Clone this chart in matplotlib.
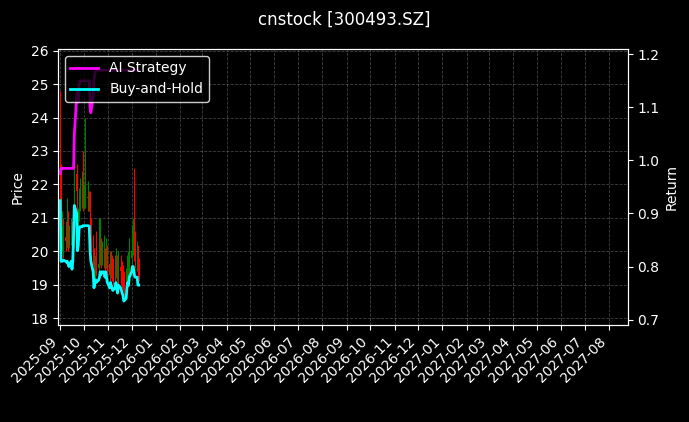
import matplotlib
matplotlib.use("Agg")
import matplotlib.pyplot as plt
import matplotlib.dates as mdates
import pandas as pd
import numpy as np

dates = pd.bdate_range("2025-09-01", "2025-12-10")
close = [21.5,20.2,20.6,20.0,20.4, 20.3,20.5,21.0,20.2,20.4, 20.6,20.2,20.4,21.2,22.3,
         21.8,20.6,21.0,21.5,21.6, 21.7,21.6,21.6,21.6,21.6, 21.6,21.6,21.5,20.8,20.2,
         19.9,19.3,19.5,19.6,19.5, 19.6,19.8,19.9,19.8,19.9, 19.9,19.7,19.9,19.7,19.6,
         19.3,19.6,19.5,19.4,19.3, 19.4,19.6,19.4,19.2,19.5, 19.4,19.3,19.2,19.1,18.9,
         19.1,19.4,19.6,19.5,19.8, 20.0,20.2,20.4,20.1,19.9, 19.9,19.5,19.4]
opn = [22.0,21.5,20.2,20.6,20.0, 20.4,20.3,20.5,21.0,20.2, 20.4,20.6,20.2,20.4,21.2,
       22.3,21.8,20.6,21.0,21.5, 21.6,21.7,21.6,21.6,21.6, 21.6,21.6,21.6,21.5,20.8,
       20.2,19.9,19.3,19.5,19.6, 19.5,19.6,19.8,19.9,19.8, 19.9,19.9,19.7,19.9,19.7,
       19.6,19.3,19.6,19.5,19.4, 19.3,19.4,19.6,19.4,19.2, 19.5,19.4,19.3,19.2,19.1,
       18.9,19.1,19.4,19.6,19.5, 19.8,20.0,20.2,20.4,20.1, 19.9,19.9,19.5]
high = [24.8,22.6,21.2,21.0,20.8, 20.9,21.0,21.6,21.2,20.8, 21.0,20.9,21.0,22.5,22.8,
        22.6,21.7,21.3,21.9,22.2, 22.4,23.0,22.0,22.0,24.0, 22.0,22.1,21.8,21.8,21.0,
        20.5,20.1,19.9,20.2,20.6, 21.0,20.6,21.0,20.4,20.3, 20.5,20.1,20.4,20.2,20.0,
        19.8,20.0,20.0,19.9,19.8, 19.9,20.1,19.9,19.7,20.0, 19.9,19.8,19.7,19.6,19.4,
        19.5,19.9,20.0,20.2,20.4, 20.6,20.8,21.0,22.5,20.6, 20.3,20.2,19.8]
low = [21.3,20.0,20.0,19.8,19.9, 20.0,20.1,20.3,20.0,20.1, 20.2,20.0,20.0,20.1,21.0,
       21.4,20.3,20.4,20.9,21.2, 21.3,21.2,21.3,21.3,21.3, 21.2,21.2,21.2,20.6,20.0,
       19.6,19.1,19.2,19.3,19.3, 19.3,19.5,19.6,19.5,19.6, 19.5,19.4,19.5,19.4,19.3,
       19.1,19.2,19.2,19.1,19.0, 19.1,19.2,19.1,18.9,19.1, 19.1,19.0,18.9,18.8,18.7,
       18.8,19.0,19.2,19.2,19.4, 19.6,19.8,19.9,19.7,19.5, 19.4,19.2,19.1]
bh = [0.924,0.81,0.81,0.81,0.812, 0.81,0.808,0.81,0.805,0.80, 0.81,0.795,0.81,0.86,0.915,
      0.90,0.83,0.84,0.87,0.875, 0.875,0.877,0.877,0.877,0.877, 0.877,0.877,0.876,0.83,0.81,
      0.79,0.76,0.77,0.775,0.77, 0.775,0.78,0.79,0.785,0.79, 0.79,0.78,0.79,0.78,0.77,
      0.76,0.77,0.765,0.76,0.755, 0.76,0.77,0.76,0.75,0.765, 0.76,0.755,0.75,0.745,0.735,
      0.74,0.76,0.77,0.765,0.78, 0.79,0.80,0.80,0.79,0.78, 0.78,0.765,0.765]
ai = [0.975,0.985,0.985,0.985,0.985, 0.985,0.985,0.985,0.985,0.985, 0.985,0.985,0.985,0.985,1.05,
      1.12,1.13,1.11,1.14,1.15, 1.15,1.15,1.15,1.15,1.15, 1.15,1.15,1.15,1.10,1.09,
      1.12,1.15,1.16,1.17,1.17, 1.17,1.17,1.17,1.17,1.17, 1.17,1.17,1.17,1.17,1.17,
      1.17,1.17,1.17,1.17,1.17, 1.17,1.17,1.17,1.17,1.17, 1.17,1.17,1.17,1.17,1.17,
      1.17,1.17,1.17,1.17,1.17, 1.17,1.17,1.17,1.17,1.17, 1.17,1.17,1.17]

plt.style.use("dark_background")
fig = plt.figure(figsize=(6.89, 4.22), dpi=100)
ax = fig.add_axes([0.084, 0.23, 0.827, 0.654])
x = mdates.date2num(dates)
c = np.array(close); o = np.array(opn)
cols = np.where(c >= o, "green", "red")
ax.vlines(x, low, high, colors=cols, linewidth=0.8)
ax.bar(x, np.abs(c - o) + 0.02, bottom=np.minimum(c, o), width=0.6, color=cols)
ax.set_ylim(17.8, 26.05)
ax.set_ylabel("Price")
ax.grid(True, linestyle="--", color="grey", alpha=0.5, linewidth=0.6)
ax.set_xlim(mdates.date2num(pd.Timestamp("2025-08-29")), mdates.date2num(pd.Timestamp("2027-08-25")))
ax.xaxis.set_major_locator(mdates.MonthLocator())
ax.xaxis.set_major_formatter(mdates.DateFormatter("%Y-%m"))
plt.setp(ax.get_xticklabels(), rotation=45, ha="right")
ax2 = ax.twinx()
ax2.plot(x, ai, color="magenta", linewidth=2, label="AI Strategy")
ax2.plot(x, bh, color="cyan", linewidth=2, label="Buy-and-Hold")
ax2.set_ylim(0.69, 1.21)
ax2.set_ylabel("Return")
ax2.legend(loc="upper left", facecolor="black", edgecolor="white")
fig.suptitle("cnstock [300493.SZ]", y=0.975)
fig.savefig("out.png", dpi=100)
